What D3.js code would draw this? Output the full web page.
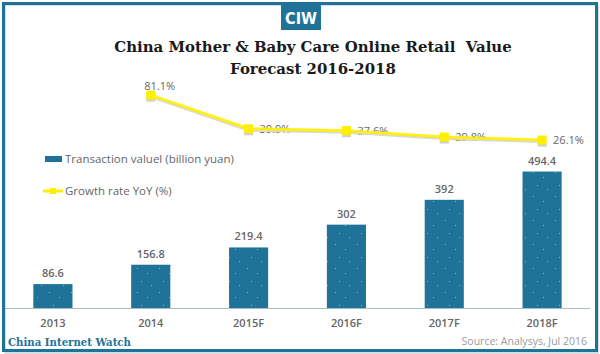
<!DOCTYPE html>
<html>
<head>
<meta charset="utf-8">
<script src="https://cdn.jsdelivr.net/npm/d3@7"></script>
<style>
  html, body { margin: 0; padding: 0; background: #fff; }
  svg { display: block; }
</style>
</head>
<body>
<svg id="chart" width="600" height="354"></svg>
<script>
// chart data
const years = ["2013", "2014", "2015F", "2016F", "2017F", "2018F"];
const values = [86.6, 156.8, 219.4, 302, 392, 494.4];
const growth = [null, 81.1, 39.9, 37.6, 29.8, 26.1];
const titleLines = ["China Mother & Baby Care Online Retail\u00a0 Value", "Forecast 2016-2018"];
const legendLabels = ["Transaction valuel (billion yuan)", "Growth rate YoY (%)"];

const blue = "#1f7399";
const yellow = "#fff000";
const grey = "#666";
const sans = "'Open Sans', 'DejaVu Sans', sans-serif";
const serif = "'DejaVu Serif', 'Liberation Serif', serif";

const svg = d3.select("#chart");

// shrink a text node's font so it spans the given width
function fitWidth(sel, base, target) {
  const w = sel.node().getComputedTextLength();
  sel.attr("font-size", base * target / w);
}

// dotted texture for the bars
const defs = svg.append("defs");
const pat = defs.append("pattern").attr("id", "dots")
  .attr("patternUnits", "userSpaceOnUse").attr("width", 22).attr("height", 24);
pat.append("rect").attr("width", 22).attr("height", 24).attr("fill", blue);
[[5, 4], [15, 9], [9, 17], [19, 21]].forEach(([px, py]) => {
  pat.append("rect").attr("x", px).attr("y", py).attr("width", 1).attr("height", 1)
    .attr("fill", "#7fb3cc");
});

// frame
svg.append("rect").attr("x", 5).attr("y", 5).attr("width", 593).attr("height", 348)
  .attr("fill", "none").attr("stroke", "#c9d3d8").attr("stroke-width", 1.5);
svg.append("rect").attr("x", 3.5).attr("y", 3.5).attr("width", 593).attr("height", 347)
  .attr("fill", "none").attr("stroke", blue).attr("stroke-width", 3);

// CIW badge
svg.append("rect").attr("x", 281).attr("y", 4).attr("width", 40).attr("height", 26).attr("fill", blue);
svg.append("text").attr("x", 301).attr("y", 24).attr("text-anchor", "middle")
  .attr("font-family", "'Liberation Sans Narrow', 'DejaVu Sans Condensed', sans-serif")
  .attr("font-weight", "bold").attr("font-size", 16).attr("fill", "#fff").text("CIW");

// title
const title = svg.append("g");
titleLines.forEach((t, i) => {
  title.append("text").attr("x", 313).attr("y", 52 + i * 22).attr("text-anchor", "middle")
    .attr("font-family", serif).attr("font-weight", "bold").attr("font-size", 16)
    .attr("fill", "#1a1a1a").text(t);
});
const fs = 16 * 398 / title.select("text").node().getComputedTextLength();
title.selectAll("text").attr("font-size", fs);

// scales
const x = d3.scaleBand().domain(years).range([4, 591]).paddingInner(0.6).paddingOuter(0.3);
const y = d3.scaleLinear().domain([0, 500]).range([308, 170]);
const y2 = d3.scaleLinear().domain([0, 100]).range([161.4, 79.6]);

// bars
svg.append("g").selectAll("rect").data(values).join("rect")
  .attr("x", (d, i) => x(years[i]))
  .attr("y", d => y(d))
  .attr("width", x.bandwidth())
  .attr("height", d => y(0) - y(d))
  .attr("fill", "url(#dots)");

svg.append("g").selectAll("text").data(values).join("text")
  .attr("x", (d, i) => x(years[i]) + x.bandwidth() / 2)
  .attr("y", d => y(d) - 7)
  .attr("text-anchor", "middle")
  .attr("font-family", sans).attr("font-size", 11).attr("font-weight", 600)
  .attr("fill", grey).text(d => d);

// x axis
const xAxis = svg.append("g").attr("transform", "translate(0,308)")
  .call(d3.axisBottom(x).tickSize(0).tickPadding(11));
xAxis.select(".domain").attr("stroke", "#a9bcc6").attr("d", "M5,0.5H590");
xAxis.selectAll("text").attr("font-family", sans).attr("font-size", 11)
  .attr("font-weight", 600).attr("fill", grey);

// growth line
const pts = growth.map((g, i) => ({ g, year: years[i] })).filter(d => d.g !== null);
const cx = d => x(d.year) + x.bandwidth() / 2;
const line = d3.line().x(cx).y(d => y2(d.g));

// labels sit under the line, like the original
svg.append("g").selectAll("text").data(pts).join("text")
  .attr("x", (d, i) => i === 0 ? cx(d) + 9 : cx(d) + 11)
  .attr("y", (d, i) => i === 0 ? y2(d.g) - 5 : y2(d.g) + 4)
  .attr("text-anchor", (d, i) => i === 0 ? "middle" : "start")
  .attr("font-family", sans).attr("font-size", 11)
  .attr("fill", grey).text(d => d.g + "%");

svg.append("path").datum(pts).attr("d", line).attr("fill", "none")
  .attr("stroke", "#d9d9d9").attr("stroke-width", 3).attr("transform", "translate(0,1.5)");
svg.append("path").datum(pts).attr("d", line).attr("fill", "none")
  .attr("stroke", yellow).attr("stroke-width", 3).attr("stroke-opacity", 0.9);

const mk = svg.append("g").selectAll("g").data(pts).join("g")
  .attr("transform", d => `translate(${cx(d)},${y2(d.g)})`);
mk.append("rect").attr("x", -4.5).attr("y", -2.5).attr("width", 9).attr("height", 9).attr("fill", "#cfcfcf");
mk.append("rect").attr("x", -4.5).attr("y", -4.5).attr("width", 9).attr("height", 9).attr("fill", yellow);

// legend
const lg = svg.append("g");
lg.append("rect").attr("x", 45).attr("y", 156).attr("width", 17).attr("height", 6).attr("fill", blue);
lg.append("line").attr("x1", 43).attr("x2", 63).attr("y1", 191).attr("y2", 191)
  .attr("stroke", yellow).attr("stroke-width", 3);
lg.append("rect").attr("x", 50).attr("y", 188).attr("width", 6).attr("height", 6).attr("fill", yellow);
lg.selectAll("text").data(legendLabels).join("text")
  .attr("x", 65).attr("y", (d, i) => 163 + i * 32)
  .attr("font-family", sans).attr("font-size", 11.5).attr("fill", grey).text(d => d);

// footer
const brand = svg.append("text").attr("x", 8).attr("y", 346)
  .attr("font-family", serif).attr("font-weight", "bold").attr("font-size", 12)
  .attr("fill", blue).text("China Internet Watch");
fitWidth(brand, 12, 123);
svg.append("text").attr("x", 587).attr("y", 345).attr("text-anchor", "end")
  .attr("font-family", sans).attr("font-size", 10.5).attr("fill", "#9a9a9a")
  .text("Source: Analysys, Jul 2016");
</script>
</body>
</html>
